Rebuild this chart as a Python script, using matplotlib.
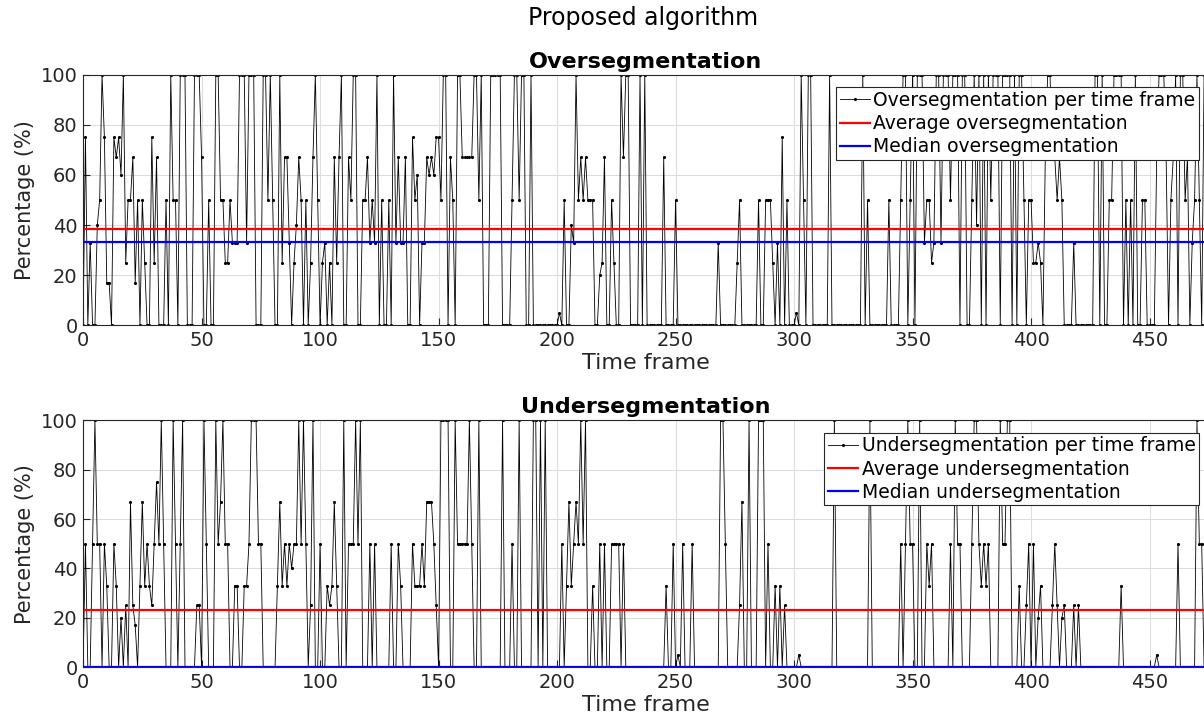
import numpy as np
import matplotlib
matplotlib.use('Agg')
import matplotlib.pyplot as plt

# oversegmentation per time frame (%), frames 0..475
over = [
    0, 75, 0, 33, 0, 0, 40, 50, 100, 75,
    17, 17, 0, 75, 67, 75, 60, 100, 25, 50,
    50, 67, 17, 50, 0, 50, 25, 0, 0, 75,
    25, 67, 0, 0, 0, 50, 0, 100, 50, 50,
    0, 100, 100, 100, 0, 0, 0, 100, 100, 100,
    67, 0, 0, 50, 0, 0, 100, 100, 50, 50,
    25, 25, 50, 33, 33, 33, 100, 100, 100, 33,
    100, 100, 100, 0, 0, 0, 100,
    100, 50, 100, 50, 0, 0, 100, 25, 67, 67,
    33, 0, 25, 40, 67, 50, 0, 50, 0, 25,
    67, 100, 50, 0, 25, 33, 0, 25, 0, 67,
    25, 67, 100, 0, 0, 67, 50, 100, 100, 0,
    0, 50, 50, 67, 33, 50, 33, 100, 0, 50,
    0, 0, 50, 0, 100, 33, 67, 33, 33, 67,
    0, 0, 75, 50, 60, 0, 33, 33, 67, 60,
    67, 60, 75, 75, 50, 100, 100, 0, 67, 50, 0,
    100, 100, 67, 67, 67, 67, 67, 100, 100, 50,
    100, 0, 0, 0, 100, 100, 100, 100, 100, 0,
    0, 0, 0, 50, 100, 100, 50, 100, 100, 0,
    0, 100, 0, 0, 0, 0, 0, 0, 0, 0,
    0, 0, 0, 5, 0, 50, 0, 0, 40, 33,
    100, 50, 67, 50, 67, 50, 50, 50, 0, 0,
    20, 25, 67, 0, 0, 50, 25, 0, 0, 100,
    67, 100, 100, 0, 0, 0, 0, 100,
    0, 100, 0, 0, 0, 0, 0, 0, 0, 67,
    0, 0, 0, 0, 50, 0, 0, 0, 0, 0,
    0, 0, 0, 0, 0, 0, 0, 0, 0, 0,
    0, 0, 33, 0, 0, 0, 0, 0, 0, 0,
    25, 50, 0, 0, 0, 0, 0, 0, 0, 50,
    0, 0, 50, 50, 50, 25, 0, 33, 0, 75,
    0, 50, 0, 0, 0, 5, 0, 100, 50, 0,
    100, 100, 0, 0, 0, 0, 0, 0, 0, 100,
    0, 0, 0, 0, 0, 0, 0, 0, 0, 0,
    0, 0, 0, 100, 0, 50, 0, 0, 0, 0,
    0, 0, 0, 0, 50, 0, 0, 0, 0, 50,
    100, 100, 0, 50, 100, 0, 100, 100, 100, 33,
    50, 50, 25, 33, 100, 100, 33, 100, 100, 100,
    50, 100, 100, 100, 0, 100, 100, 0, 0, 50,
    100, 40, 100, 0, 100, 0, 100, 50, 100, 100,
    100, 0, 100, 100, 100, 100, 0,
    100, 0, 100, 100, 50, 0, 50, 50, 25, 25,
    33, 25, 0, 67, 100, 100, 67, 67, 50, 67,
    50, 0, 0, 0, 0, 33, 0, 0, 0, 0,
    0, 0, 0, 0, 100, 100, 0, 100, 0, 0,
    50, 50, 100, 100, 100, 100, 0, 50, 0, 50,
    0, 100, 0, 0, 50, 50, 0, 0, 0, 0,
    67, 100, 100, 100, 67, 0, 50, 67, 100, 0,
    100, 100, 50, 67, 0, 33, 50, 100, 50, 0,
    100, 33, 40,
]

# undersegmentation per time frame (%), frames 0..475
under = [
    0, 50, 0, 0, 50, 100, 50, 50, 0, 50,
    33, 0, 0, 50, 33, 0, 20, 0, 25, 0,
    67, 25, 17, 0, 33, 67, 33, 50, 33, 25,
    50, 75, 50, 100, 50, 0, 0, 0, 100, 50,
    0, 50, 100, 0, 0, 0, 0, 0, 25, 25,
    0, 100, 50, 0, 0, 0, 100, 50, 67, 100,
    50, 50, 0, 0, 33, 33, 0, 0, 33, 33,
    50, 100, 100, 100, 50, 50, 0,
    0, 0, 0, 0, 0, 33, 67, 33, 50, 33,
    50, 40, 50, 50, 100, 50, 100, 50, 0, 25,
    100, 0, 0, 50, 0, 0, 33, 25, 33, 67,
    33, 0, 0, 100, 0, 50, 50, 50, 100, 50,
    100, 0, 0, 0, 50, 0, 50, 0, 0, 0,
    0, 0, 0, 50, 0, 0, 50, 33, 0, 0,
    0, 0, 50, 33, 33, 33, 50, 33, 67, 67,
    67, 50, 25, 0, 100, 100, 100, 100, 0, 0,
    100, 50, 50, 50, 50, 50, 100, 50, 0, 0,
    100, 0, 0, 0, 0, 0, 0, 0, 0, 0,
    100, 0, 0, 0, 50, 0, 0, 100, 0, 0,
    0, 0, 0, 100, 100, 0, 100, 0, 100, 0,
    0, 0, 0, 0, 0, 50, 0, 33, 67, 33,
    50, 67, 50, 100, 50, 100, 0, 0, 33, 0,
    0, 50, 0, 50, 0, 0, 50, 50, 50, 50,
    0, 50, 0, 0, 0, 0, 0, 0, 0, 0,
    0, 0, 0, 0, 0, 0, 0, 0, 0, 33,
    0, 0, 50, 0, 5, 0, 50, 0, 0, 0,
    50, 0, 0, 0, 0, 0, 0, 0, 0, 0,
    0, 0, 100, 100, 50, 0, 0, 0, 0, 0,
    25, 67, 0, 0, 100, 0, 0, 0, 100, 100,
    100, 0, 50, 0, 0, 33, 0, 33, 0, 25,
    0, 0, 0, 0, 0, 5, 0, 0, 0, 0,
    0, 0, 0, 0, 0, 0, 0, 0, 0, 0,
    100, 0, 0, 0, 0, 0, 0, 0, 0, 0,
    0, 0, 0, 0, 0, 100, 0, 0, 0, 0,
    0, 0, 0, 0, 0, 0, 0, 0,
    50, 0, 50, 100, 50, 50, 0, 0, 100, 0,
    0, 50, 33, 50, 0, 0, 0, 0, 0, 0,
    0, 50, 0, 100, 50, 50, 0, 0, 0, 0,
    50, 100, 100, 50, 33, 50, 33, 50, 0, 0,
    0, 0, 100, 50, 50, 100, 100, 0, 0, 0,
    33, 0, 0, 25, 50, 0, 50, 0, 20, 33,
    0, 0, 0, 0, 25, 50, 25, 0, 20, 25,
    0, 0, 0, 25, 0, 25, 0, 0, 0, 0,
    0, 0, 0, 0, 0, 0, 0, 0, 0, 0,
    0, 0, 0, 33, 0, 0, 0, 0, 0, 0,
    0, 0, 0, 0, 0, 0, 0, 0, 5, 0,
    0, 0, 0, 0, 0, 0, 0, 50, 0, 0,
    0, 0, 0, 0, 0, 100, 50, 50, 0, 0,
    33, 25,
]

# summary levels
avg_over, med_over = 38.5, 33.3
avg_under, med_under = 23.3, 0.0

x_ticks = [0, 50, 100, 150, 200, 250, 300, 350, 400, 450]
y_ticks = [0, 20, 40, 60, 80, 100]

plt.rcParams['font.family'] = 'DejaVu Sans'
txt = '#262626'

fig = plt.figure(figsize=(12.04, 7.26), dpi=100)
fig.text(0.534, 0.975, 'Proposed algorithm', fontsize=17, ha='center', va='center', color='black')

panels = [
    ([0.069, 0.552, 0.935, 0.345], over, avg_over, med_over, 'Oversegmentation',
     ['Oversegmentation per time frame', 'Average oversegmentation', 'Median oversegmentation']),
    ([0.069, 0.081, 0.935, 0.340], under, avg_under, med_under, 'Undersegmentation',
     ['Undersegmentation per time frame', 'Average undersegmentation', 'Median undersegmentation']),
]

for pos, vals, avg, med, title, labels in panels:
    ax = fig.add_axes(pos)
    frames = np.arange(len(vals))
    ax.plot(frames, vals, color='black', lw=0.6, marker='.', markersize=2.5, label=labels[0])
    ax.axhline(avg, color='red', lw=1.6, label=labels[1])
    ax.axhline(med, color='blue', lw=1.6, label=labels[2])
    ax.set_xlim(0, 475)
    ax.set_ylim(0, 100)
    ax.set_xticks(x_ticks)
    ax.set_yticks(y_ticks)
    ax.grid(True, color='#dddddd', lw=0.8)
    ax.set_axisbelow(True)
    ax.tick_params(direction='in', labelsize=14, length=5, colors=txt, pad=4)
    ax.set_xlabel('Time frame', fontsize=16, color=txt, labelpad=2)
    ax.set_ylabel('Percentage (%)', fontsize=15, color=txt, labelpad=4)
    ax.set_title(title, fontsize=16, fontweight='bold', pad=5)
    for s in ax.spines.values():
        s.set_color(txt)
        s.set_linewidth(0.8)
    leg = ax.legend(loc='upper right', bbox_to_anchor=(0.9915, 0.95), fontsize=13.5,
                    fancybox=False, framealpha=1, edgecolor=txt, handlelength=1.6,
                    handletextpad=0.2, borderpad=0.2, labelspacing=0.22, borderaxespad=0)
    leg.get_frame().set_linewidth(0.8)

fig.savefig('out.png', dpi=100)
